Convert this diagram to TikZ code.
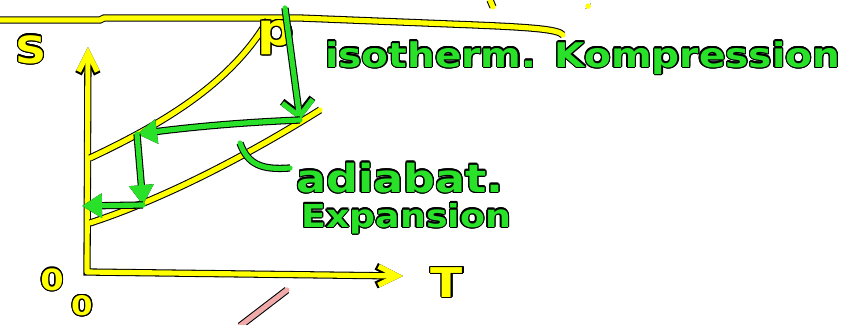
\documentclass[tikz,border=0pt]{standalone}
\usepackage{fontspec}
\newfontfamily\hand[FakeStretch=1.15]{DejaVu Sans Bold}
\usepackage{contour}
\contourlength{1pt}
\usetikzlibrary{arrows.meta}

\definecolor{marker}{RGB}{255,255,0}
\definecolor{pen}{RGB}{40,225,40}
\definecolor{rose}{RGB}{240,170,170}
\newcommand\inked[1]{\contour{black}{#1}}

\tikzset{
  stroke/.style={line width=4.4pt,line cap=round,line join=round,
                 preaction={draw=black,line width=6.2pt}},
  yel/.style={stroke,draw=marker},
  grn/.style={stroke,draw=pen},
  vee/.style={-{Straight Barb[length=13pt,width=26pt]}},
  tri/.style={-{Triangle[length=17pt,width=20pt]}},
  axisar/.style={{Straight Barb[length=16pt,width=16pt]}-{Straight Barb[length=16pt,width=16pt]}},
  ylabel/.style={text=marker,inner sep=0pt,font=\hand\fontsize{32}{36}\selectfont},
  glabel/.style={text=pen,inner sep=0pt,anchor=base west}
}

\begin{document}
\begin{tikzpicture}[x=0.03cm,y=-0.03cm]
 \useasboundingbox (0,0) rectangle (854,324);
 \fill[white] (0,0) rectangle (854,324);
 % yellow: isotherm line, axes, adiabats
 \draw[yel] (0,20) -- (100,20) -- (104,18) -- (300,18) -- (450,24)
            .. controls (530,27) and (558,29) .. (563,35);
 \draw[yel] (490,0) -- (493,7);
 \draw[yel] (588,6) -- (588.3,6.3);
 \draw[yel,axisar] (88,47) -- (87,272) -- (403,276);
 \draw[yel] (90,158) .. controls (160,125) and (230,85) .. (268,20);
 \draw[yel] (90,223) .. controls (160,200) and (240,160) .. (320,110);
 \draw[stroke,draw=rose] (240,326) -- (287,290);
 \node[ylabel] (s) at (31,50) {\inked{S}};
 \node[ylabel,font=\hand\fontsize{35}{40}\selectfont] (t) at (447,283) {\inked{T}};
 \node[ylabel,font=\hand\fontsize{25}{30}\selectfont] (o1) at (52,280) {\inked{0}};
 \node[ylabel,font=\hand\fontsize{23}{28}\selectfont] (o2) at (82,306) {\inked{0}};
 \node[ylabel,font=\hand\fontsize{38}{44}\selectfont] (p) at (276,38) {\inked{p}};
 % green: cycle
 \coordinate (c1) at (285,8);
 \coordinate (c2) at (300,120);
 \coordinate (c3) at (137,134);
 \coordinate (c4) at (143,205);
 \coordinate (c5) at (82,206);
 \draw[grn,vee] (c1) -- (c2);
 \draw[grn,tri] (c2) .. controls (250,122) and (200,126) .. (c3);
 \draw[grn,tri] (c3) -- (c4);
 \draw[grn,tri] (c4) -- (c5);
 \coordinate (h1) at (240,143);
 \coordinate (h2) at (290,168);
 \draw[grn] (h1) .. controls (248,165) and (262,170) .. (h2);
 \node[glabel,font=\hand\fontsize{29}{34}\selectfont] (iso) at (325,67) {\inked{isotherm. Kompression}};
 \node[glabel,font=\hand\fontsize{33}{38}\selectfont] (adi) at (296,192) {\inked{adiabat.}};
 \node[glabel,font=\hand\fontsize{27}{32}\selectfont] (exp) at (301,227) {\inked{Expansion}};
\end{tikzpicture}
\end{document}
